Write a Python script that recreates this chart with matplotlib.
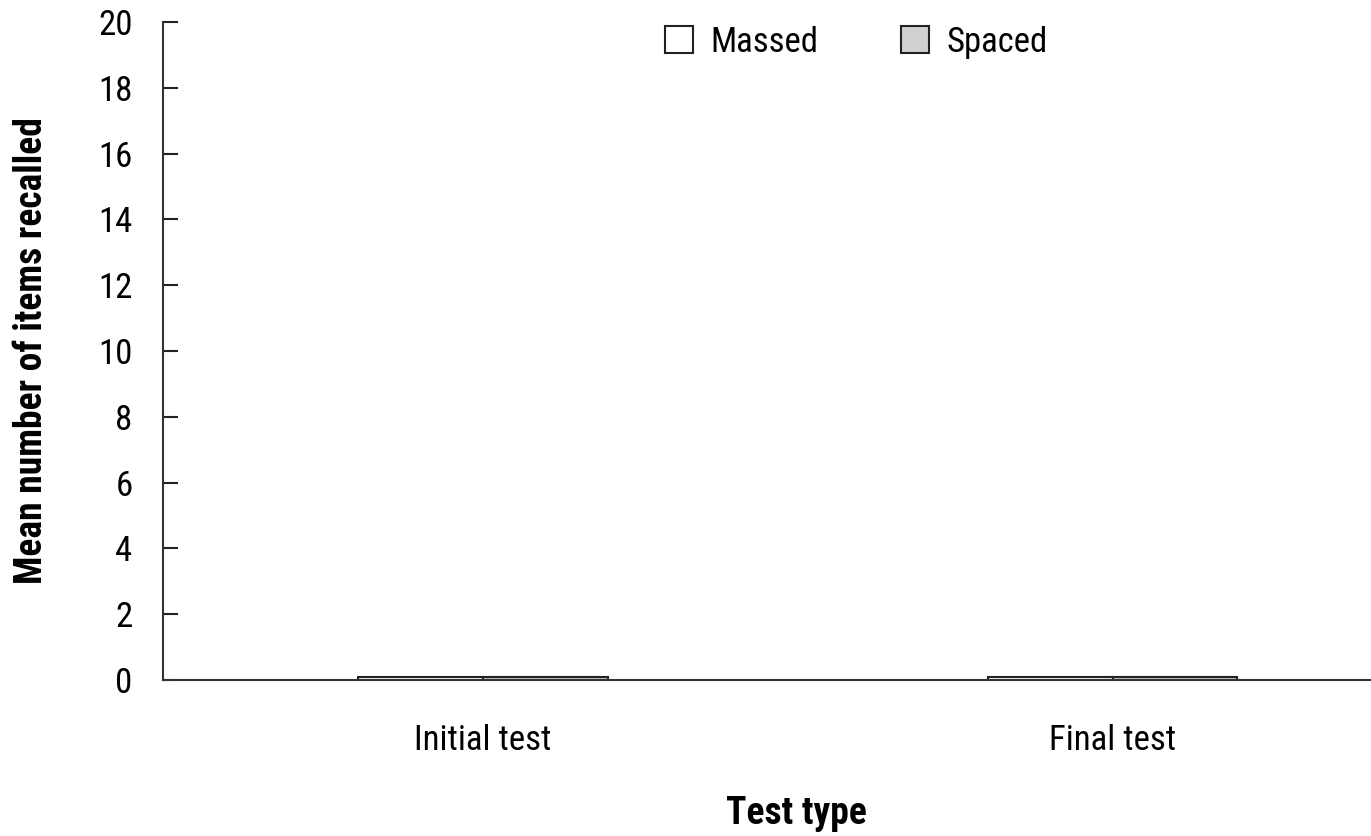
import matplotlib
matplotlib.use("Agg")
import matplotlib.pyplot as plt
from matplotlib import font_manager
import numpy as np

categories = ["Initial test", "Final test"]
massed = [0.1, 0.1]
spaced = [0.1, 0.1]
yticks = [0, 2, 4, 6, 8, 10, 12, 14, 16, 18, 20]

names = {f.name for f in font_manager.fontManager.ttflist}
cands = ['Liberation Sans Narrow', 'Roboto Condensed', 'DejaVu Sans Condensed']
fam = next((c for c in cands if c in names), 'DejaVu Sans')
plt.rcParams['font.family'] = [fam, 'DejaVu Sans']

fig = plt.figure(figsize=(13.71, 8.36), dpi=100)
ax = fig.add_axes([0.119, 0.1866, 0.881, 0.7871])

x = np.arange(len(categories))
w = 0.198
ax.bar(x - w/2, massed, w, color='white', edgecolor='#222222', linewidth=1.5, label='Massed')
ax.bar(x + w/2, spaced, w, color='#d0d0d0', edgecolor='#222222', linewidth=1.5, label='Spaced')

ax.set_xlim(-0.508, 1.41)
ax.set_ylim(0, 20)
ax.set_yticks(yticks)
ax.set_yticklabels([str(t) for t in yticks], fontsize=25)
ax.set_xticks(x)
ax.set_xticklabels(categories, fontsize=25)
ax.tick_params(axis='y', direction='in', length=11, width=1.5, pad=22, colors='#222222', labelcolor='black')
ax.tick_params(axis='x', length=0, pad=32)

for s in ['top', 'right']:
    ax.spines[s].set_visible(False)
for s in ['left', 'bottom']:
    ax.spines[s].set_linewidth(1.5)
    ax.spines[s].set_color('#333333')

ax.set_ylabel('Mean number of items recalled', fontsize=27, fontweight='bold')
ax.yaxis.set_label_coords(-0.094, 0.5)
ax.set_xlabel('Test type', fontsize=27, fontweight='bold')
ax.xaxis.set_label_coords(0.524, -0.175)

leg = ax.legend(loc='upper center', bbox_to_anchor=(0.574, 1.042), ncol=2, frameon=False,
                fontsize=25, handlelength=0.8, handleheight=0.8, columnspacing=2.4, handletextpad=0.5)

fig.savefig('out.png', dpi=100)
